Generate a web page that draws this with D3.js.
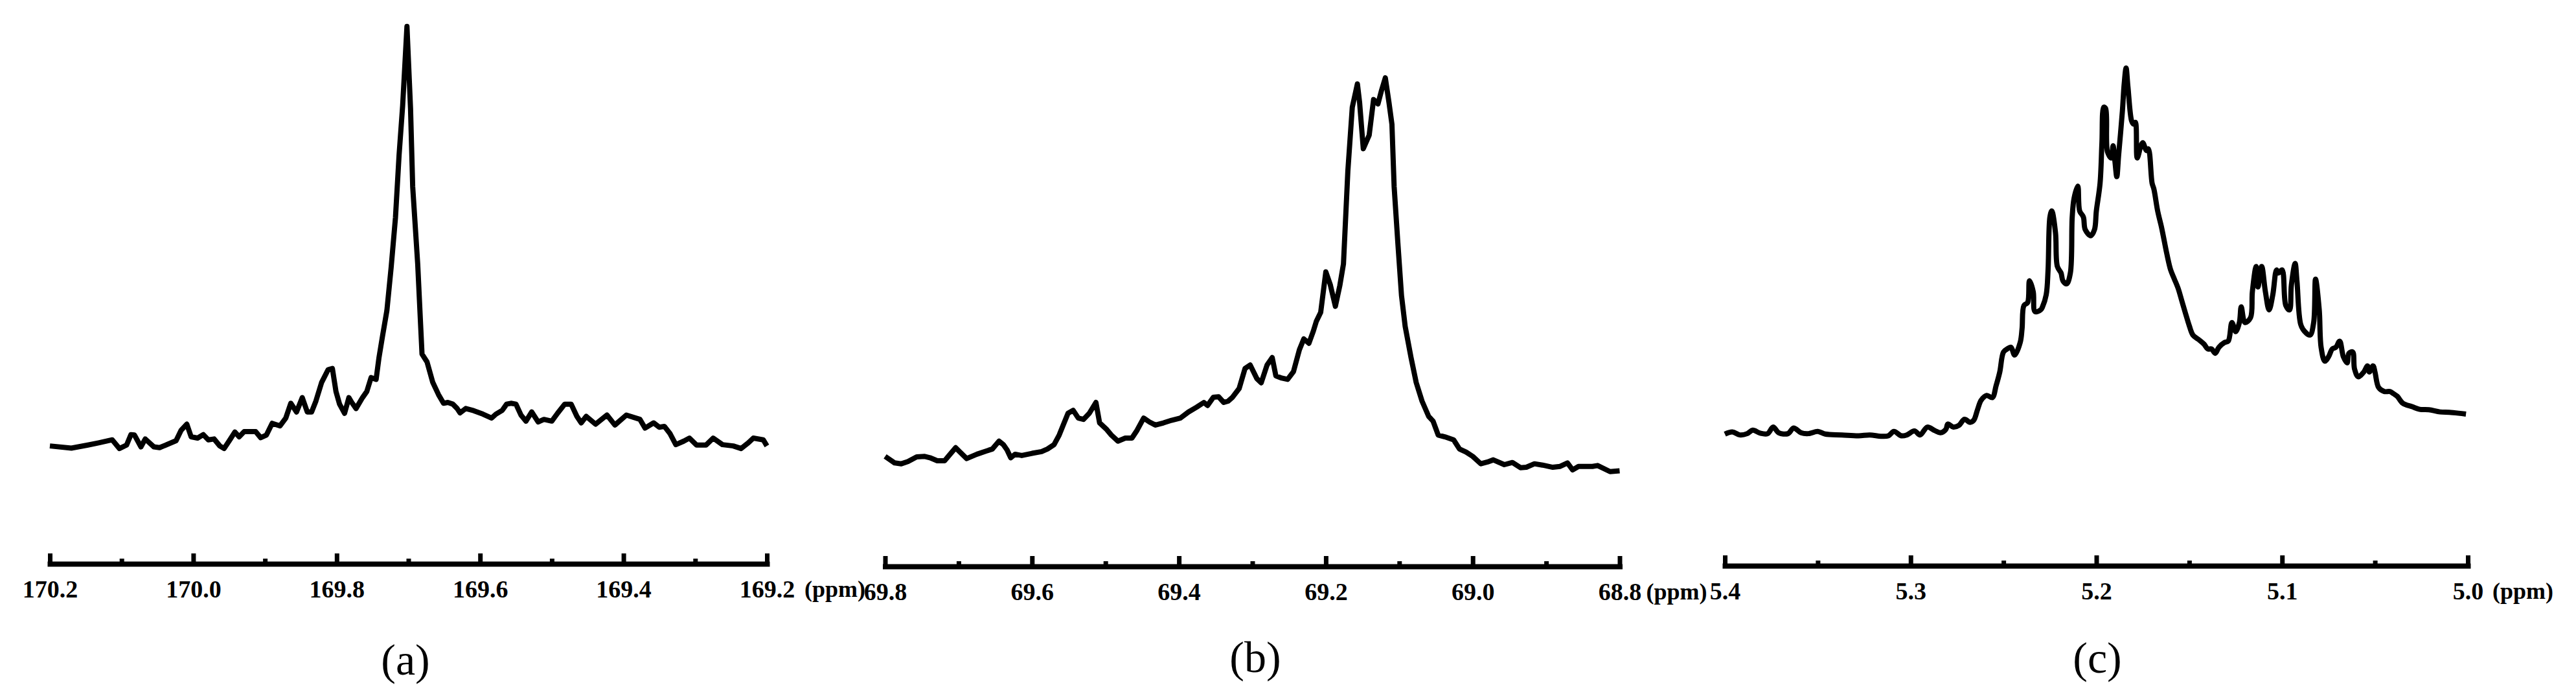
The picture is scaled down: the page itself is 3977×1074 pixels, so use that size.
<!DOCTYPE html>
<html><head><meta charset="utf-8">
<script src="https://cdn.jsdelivr.net/npm/d3@7"></script>
<style>html,body{margin:0;padding:0;background:#fff;} svg{display:block;}</style>
</head><body>
<script>
// ---------- data (chemical shift in ppm, intensity in arbitrary units) ----------
const aPpm = [170.200,170.170,170.147,170.132,170.113,170.103,170.093,170.087,170.082,170.073,170.067,170.055,170.047,170.024,170.017,170.009,170.003,169.994,169.986,169.979,169.971,169.963,169.957,169.949,169.942,169.936,169.929,169.913,169.906,169.898,169.890,169.879,169.871,169.864,169.856,169.848,169.841,169.835,169.829,169.821,169.812,169.806,169.801,169.796,169.789,169.783,169.779,169.773,169.764,169.758,169.752,169.745,169.741,169.736,169.730,169.724,169.718,169.713,169.708,169.702,169.697,169.694,169.687,169.681,169.674,169.666,169.658,169.651,169.645,169.638,169.632,169.628,169.620,169.609,169.596,169.584,169.578,169.569,169.563,169.557,169.550,169.543,169.536,169.528,169.519,169.511,169.500,169.492,169.482,169.473,169.465,169.459,169.452,169.439,169.423,169.412,169.396,169.377,169.370,169.358,169.350,169.343,169.335,169.327,169.316,169.308,169.298,169.285,169.275,169.262,169.247,169.236,169.226,169.219,169.205,169.200];
const aInt = [1.8,1.3,2.0,2.5,3.2,1.2,2.0,4.4,4.3,1.6,3.4,1.6,1.4,3.0,5.4,6.8,3.9,3.6,4.4,3.2,3.4,1.8,1.2,3.2,5.0,3.9,5.1,5.1,3.7,4.3,7.0,6.4,8.2,11.6,9.6,12.9,9.6,9.6,12.1,16.4,19.3,19.6,14.3,11.4,9.3,12.9,11.8,10.4,12.9,14.3,17.5,17.1,22.1,27.1,32.9,42.9,54.3,68.6,80.0,98.2,79.3,61.4,43.6,22.9,21.1,16.4,13.6,11.6,11.8,11.4,10.4,9.4,10.4,9.9,9.1,8.2,9.1,10.0,11.4,11.6,11.4,8.9,7.5,9.6,7.3,7.9,7.5,9.3,11.4,11.4,8.6,7.1,8.6,6.8,8.9,6.6,8.9,7.9,5.9,7.1,6.1,6.3,4.6,2.1,2.9,3.6,2.0,2.0,3.6,2.1,1.8,1.2,2.5,3.6,3.2,1.8];

const bPpm = [69.800,69.787,69.778,69.769,69.757,69.746,69.739,69.729,69.719,69.713,69.704,69.698,69.689,69.675,69.654,69.645,69.639,69.634,69.629,69.623,69.614,69.600,69.587,69.579,69.570,69.563,69.558,69.551,69.544,69.537,69.530,69.522,69.513,69.508,69.499,69.492,69.483,69.473,69.464,69.457,69.448,69.440,69.432,69.421,69.410,69.398,69.387,69.376,69.366,69.361,69.353,69.346,69.339,69.333,69.327,69.318,69.310,69.303,69.294,69.288,69.280,69.273,69.268,69.260,69.252,69.244,69.236,69.230,69.223,69.217,69.213,69.207,69.200,69.194,69.187,69.181,69.176,69.173,69.170,69.164,69.157,69.154,69.149,69.141,69.135,69.129,69.124,69.119,69.114,69.110,69.107,69.102,69.097,69.092,69.084,69.077,69.069,69.060,69.054,69.047,69.038,69.026,69.018,69.009,69.000,68.989,68.980,68.972,68.957,68.946,68.935,68.927,68.916,68.905,68.891,68.881,68.871,68.864,68.856,68.837,68.830,68.813,68.800];
const bInt = [4.4,2.9,2.7,3.2,4.3,4.4,4.1,3.4,3.4,4.6,6.4,5.4,3.9,4.9,6.1,7.9,7.1,5.9,4.1,4.9,4.6,5.1,5.5,6.1,7.1,9.3,11.4,14.3,15.0,13.2,12.9,14.3,16.8,12.1,10.7,9.3,7.9,8.6,8.6,10.4,13.2,12.3,11.6,12.1,12.7,13.2,14.6,15.7,16.8,16.1,18.0,18.1,16.8,17.1,18.0,20.0,24.6,25.4,22.3,21.3,25.4,27.1,22.9,22.4,22.1,23.9,28.9,31.4,30.4,33.2,35.4,37.5,46.8,43.9,38.9,43.6,48.6,59.3,70.0,84.6,90.0,85.7,75.1,78.2,86.4,85.4,88.6,91.4,85.7,80.7,66.4,53.6,41.4,34.3,27.1,21.4,17.1,13.6,12.5,9.3,8.9,8.2,6.1,5.4,4.4,2.7,3.1,3.6,2.5,3.0,1.8,1.9,2.7,2.4,1.9,2.1,2.9,1.3,2.1,2.1,2.3,0.9,1.1];

const cPpm = [5.400,5.396,5.392,5.388,5.385,5.381,5.377,5.374,5.371,5.366,5.363,5.359,5.355,5.350,5.346,5.337,5.328,5.322,5.316,5.312,5.309,5.305,5.302,5.298,5.295,5.294,5.291,5.287,5.284,5.281,5.280,5.277,5.274,5.271,5.268,5.266,5.264,5.262,5.259,5.256,5.254,5.252,5.250,5.248,5.246,5.244,5.241,5.240,5.239,5.237,5.236,5.234,5.233,5.230,5.229,5.227,5.226,5.225,5.224,5.222,5.221,5.219,5.218,5.216,5.214,5.213,5.212,5.210,5.209,5.207,5.206,5.203,5.201,5.200,5.198,5.197,5.196,5.195,5.194,5.192,5.191,5.190,5.189,5.188,5.186,5.185,5.184,5.183,5.181,5.180,5.179,5.178,5.176,5.175,5.173,5.172,5.170,5.169,5.167,5.165,5.164,5.162,5.160,5.158,5.156,5.154,5.152,5.150,5.148,5.145,5.142,5.140,5.138,5.136,5.134,5.131,5.129,5.127,5.125,5.123,5.122,5.120,5.117,5.116,5.114,5.113,5.111,5.109,5.107,5.105,5.103,5.102,5.100,5.098,5.096,5.095,5.093,5.092,5.090,5.088,5.085,5.083,5.082,5.080,5.079,5.077,5.075,5.073,5.071,5.069,5.067,5.065,5.064,5.062,5.061,5.059,5.056,5.054,5.053,5.051,5.050,5.048,5.045,5.042,5.040,5.038,5.035,5.030,5.026,5.021,5.015,5.010,5.005,5.001];
const cInt = [4.3,4.8,4.1,4.4,5.2,4.5,4.4,5.9,4.6,4.4,5.7,4.6,4.4,4.9,4.3,4.1,3.9,4.1,3.8,3.9,4.9,3.9,4.1,5.0,4.1,4.4,5.9,5.1,4.6,5.4,6.6,5.9,6.3,7.7,7.0,7.5,9.9,12.1,13.2,12.7,15.4,18.6,23.2,23.9,24.3,22.5,25.4,28.6,33.9,34.6,39.6,37.1,32.5,32.9,33.6,36.4,42.1,54.3,55.7,50.7,42.9,41.4,39.6,38.9,41.4,54.3,58.6,61.4,55.7,54.3,51.4,50.0,51.4,55.7,62.1,71.4,79.6,79.3,69.3,67.9,70.7,67.1,63.6,68.6,78.6,85.0,88.6,84.3,76.4,75.7,76.1,67.9,70.7,71.4,69.6,70.0,62.1,60.7,55.7,52.1,50.0,45.7,42.1,40.0,37.9,35.0,32.1,29.3,27.1,26.1,25.0,23.9,23.9,22.9,24.3,25.4,25.7,30.0,27.9,30.0,33.6,30.0,31.1,37.1,42.9,38.2,42.9,37.1,32.9,36.4,42.1,41.4,42.1,33.9,32.9,38.6,43.6,39.6,29.6,28.0,27.1,30.0,40.0,32.9,24.3,21.1,22.1,23.9,24.3,25.7,22.1,20.7,22.9,23.2,19.3,17.5,18.6,20.0,18.6,20.0,18.6,15.0,14.1,14.1,13.6,13.0,11.4,10.6,10.0,9.9,9.4,9.3,9.1,8.9];

// axis ticks
const aMajor = [170.2,170.0,169.8,169.6,169.4,169.2];
const aMinor = [170.1,169.9,169.7,169.5,169.3];
const bMajor = [69.8,69.6,69.4,69.2,69.0,68.8];
const bMinor = [69.7,69.5,69.3,69.1,68.9];
const cMajor = [5.4,5.3,5.2,5.1,5.0];
const cMinor = [5.35,5.25,5.15,5.05];
const panelLabels = ["(a)","(b)","(c)"];
const unitLabel = "(ppm)";

// ---------- drawing ----------
const W = 3977, H = 1074;
const svg = d3.select("body").append("svg").attr("width", W).attr("height", H);
svg.append("rect").attr("width", W).attr("height", H).attr("fill", "#fff");

const serif = "'Liberation Serif','Times New Roman',Times,serif";

const panels = [
  {ppm: aPpm, inten: aInt, dom: [170.2, 169.2], rng: [77, 1184], yr: [700.2, 28.7], axisY: 870, major: aMajor, minor: aMinor, unitDx: 58, label: panelLabels[0], labelX: 626, labelY: 1041, curve: d3.curveLinear},
  {ppm: bPpm, inten: bInt, dom: [69.8, 68.8], rng: [1366.5, 2500.5], yr: [733.8, 62.3], axisY: 874, major: bMajor, minor: bMinor, unitDx: 41, label: panelLabels[1], labelX: 1938, labelY: 1037, curve: d3.curveLinear},
  {ppm: cPpm, inten: cInt, dom: [5.4, 5.0], rng: [2663, 3810], yr: [698.6, 28.7], axisY: 873, major: cMajor, minor: cMinor, unitDx: 38, label: panelLabels[2], labelX: 3238, labelY: 1038, curve: d3.curveCatmullRom.alpha(0.5)}
];

const fmt = d3.format(".1f");

panels.forEach(p => {
  const x = d3.scaleLinear().domain(p.dom).range(p.rng);
  const y = d3.scaleLinear().domain([0, 100]).range(p.yr);
  const pts = p.ppm.map((v, i) => [v, p.inten[i]]);

  const line = d3.line().x(d => x(d[0])).y(d => y(d[1])).curve(p.curve);
  svg.append("path").datum(pts)
    .attr("d", line)
    .attr("fill", "none")
    .attr("stroke", "#000")
    .attr("stroke-width", 8)
    .attr("stroke-linejoin", "round");

  // major axis with labels
  const gMaj = svg.append("g").attr("transform", `translate(0,${p.axisY})`)
    .call(d3.axisBottom(x).tickValues(p.major).tickSizeInner(-16).tickSizeOuter(0).tickPadding(25).tickFormat(fmt));
  gMaj.attr("font-family", serif);
  gMaj.select(".domain").attr("stroke", "#000").attr("stroke-width", 8).attr("stroke-linecap", "square");
  gMaj.selectAll(".tick line").attr("stroke", "#000").attr("stroke-width", 7).attr("y1", 4);
  gMaj.selectAll(".tick text")
    .attr("fill", "#000")
    .style("font-family", serif)
    .style("font-weight", "bold")
    .style("font-size", "38px");

  // minor ticks
  const gMin = svg.append("g").attr("transform", `translate(0,${p.axisY})`)
    .call(d3.axisBottom(x).tickValues(p.minor).tickSizeInner(-8).tickSizeOuter(0).tickFormat(""));
  gMin.select(".domain").remove();
  gMin.selectAll(".tick line").attr("stroke", "#000").attr("stroke-width", 7).attr("y1", 4);

  // unit label
  const last = p.major[p.major.length - 1];
  svg.append("text")
    .attr("x", x(last) + p.unitDx)
    .attr("y", p.axisY + 25)
    .attr("dy", "0.71em")
    .style("font-family", serif)
    .style("font-weight", "bold")
    .style("font-size", "36px")
    .attr("fill", "#000")
    .text(unitLabel);

  // panel label
  svg.append("text")
    .attr("x", p.labelX)
    .attr("y", p.labelY)
    .attr("text-anchor", "middle")
    .style("font-family", serif)
    .style("font-size", "68px")
    .attr("fill", "#000")
    .text(p.label);
});
</script>
</body></html>
